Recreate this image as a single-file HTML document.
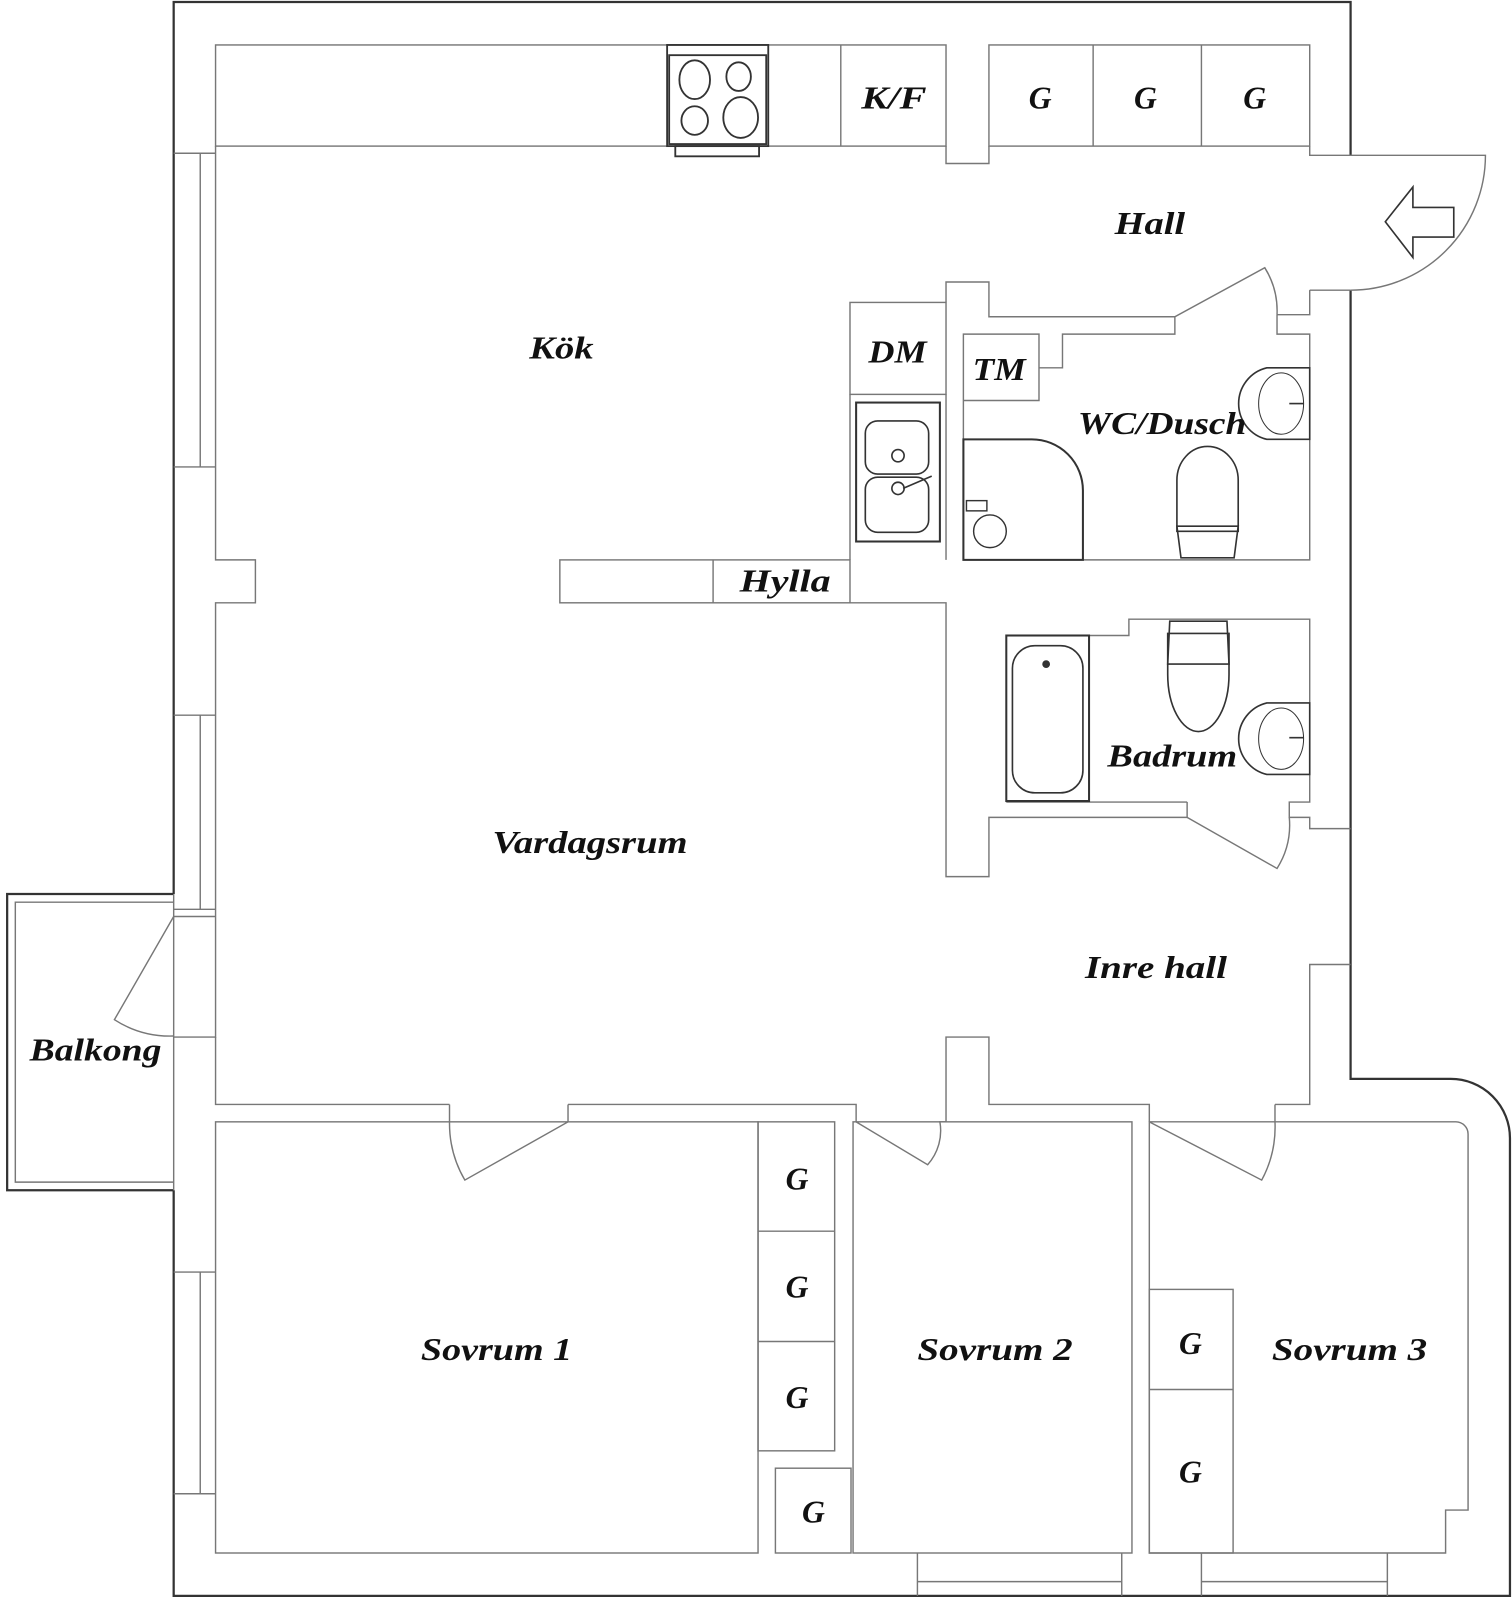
<!DOCTYPE html>
<html><head><meta charset="utf-8"><style>
html,body{margin:0;padding:0;background:#fff;}
svg{display:block;}
text{font-family:"Liberation Serif",serif;font-style:italic;font-weight:bold;font-size:31px;fill:#111;}
</style></head><body>
<svg width="1512" height="1600" viewBox="0 0 1480 1566" preserveAspectRatio="none" xmlns="http://www.w3.org/2000/svg">
<g fill="none" stroke="#333" stroke-width="2.2">
<path d="M170,875 V2 H1322 V152 M1322,284 V1056 H1420 A58,58 0 0 1 1478,1114 V1562 H170 V1165"/>
<path d="M170,875 H7 V1165 H170"/>
</g>
<g fill="none" stroke="#777" stroke-width="1.4">
<path d="M170,883 H15 V1157 H170"/>
<rect x="211" y="44" width="715" height="99"/>
<path d="M823,44 V143"/>
<path d="M926,143 V160 H968 V143"/>
<rect x="968" y="44" width="314" height="99"/>
<path d="M1070,44 V143 M1176,44 V143"/>
<path d="M1282,143 V152 H1322 M1282,284 H1322 M1282,284 V308 H1250"/>
<path d="M211,143 V548 H250 V590 H211 V1015 H170"/>
<path d="M170,150 H211 M196,150 V457 M170,457 H211"/>
<path d="M170,700 H211 M196,700 V890 M170,890 H211 M170,897 H211"/>
<path d="M170,1245 H211 M196,1245 V1462 M170,1462 H211"/>
<path d="M211,1015 V1081 H440 M556,1081 H838 V1098"/>
<path d="M170,897 L112,998 A100,100 0 0 0 170,1014"/>
<path d="M170,875 V1165"/>
<rect x="832" y="296" width="94" height="90"/>
<path d="M832,386 V548 M926,386 V548"/>
<rect x="548" y="548" width="284" height="42"/>
<path d="M698,548 V590"/>
<path d="M832,590 H926 V858 H968 V800 H1162 V785"/>
<path d="M926,296 V276 H968 V310 H1150 L1238,262 A80,80 0 0 1 1250,308"/>
<path d="M943,548 V327 H1017 V392 H943 M1017,360 H1040 V327 H1150 V310 M1250,308 V327 H1282 V548 H943"/>
<path d="M985,785 H1162 M1066,622 H1105 V606 H1282 V785 H1262 V800 H1282 V811 H1322"/>
<path d="M1162,800 L1250,850 A80,80 0 0 0 1262,800"/>
<path d="M1322,944 H1282 V1081 H1248"/>
<path d="M926,1081 V1015 H968 V1081 H1125 V1098"/>
<path d="M556,1081 V1098 L455,1155 A110,110 0 0 1 440,1098 V1081"/>
<path d="M838,1098 L908,1140 A50,50 0 0 0 920,1098 H926 V1081"/>
<path d="M1125,1098 L1235,1155 A110,110 0 0 0 1248,1098 V1081"/>
<rect x="211" y="1098" width="531" height="422"/>
<rect x="742" y="1098" width="75" height="322"/>
<path d="M742,1205 H817 M742,1313 H817"/>
<rect x="759" y="1437" width="74" height="83"/>
<rect x="835" y="1098" width="273" height="422"/>
<path d="M1125,1098 H1425 A12,12 0 0 1 1437,1110 V1478 H1415 V1520 H1125 Z"/>
<rect x="1125" y="1262" width="82" height="258"/>
<path d="M1125,1360 H1207"/>
<path d="M898,1520 V1562 M1098,1520 V1562 M898,1548 H1098"/>
<path d="M1176,1520 V1562 M1358,1520 V1562 M1176,1548 H1358"/>
<path d="M1322,284 A132,132 0 0 0 1454,152 H1322"/>
</g>
<path d="M1356,217 L1383,183 V203 H1423 V232 H1383 V252 Z" fill="none" stroke="#333" stroke-width="1.6"/>
<g fill="none" stroke="#333" stroke-width="1.8">
<rect x="653" y="44" width="99" height="99"/>
<rect x="655" y="54" width="95" height="87"/>
<rect x="661" y="143" width="82" height="10"/>
<ellipse cx="680" cy="78" rx="15" ry="19"/>
<ellipse cx="723" cy="75" rx="12" ry="14"/>
<ellipse cx="680" cy="118" rx="13" ry="14"/>
<ellipse cx="725" cy="115" rx="17" ry="20"/>
</g>
<g fill="none" stroke="#333" stroke-width="1.6">
<rect x="838" y="394" width="82" height="136" stroke-width="2"/>
<rect x="847" y="412" width="62" height="52" rx="12"/>
<rect x="847" y="467" width="62" height="54" rx="12"/>
<circle cx="879" cy="446" r="6"/>
<circle cx="879" cy="478" r="6"/>
<path d="M884,478 L912,466"/>
</g>
<g fill="none" stroke="#333" stroke-width="2">
<path d="M943,548 V430 H1010 A50,50 0 0 1 1060,480 V548 Z"/>
<circle cx="969" cy="520" r="16" stroke-width="1.4"/>
<rect x="946" y="490" width="20" height="10" stroke-width="1.4"/>
</g>
<g fill="none" stroke="#333" stroke-width="1.6">
<path d="M1152,520 V470 A30,33 0 0 1 1212,470 V520 Z"/>
<path d="M1152,515 H1212 L1208,546 H1156 Z"/>
<path d="M1240,360 H1282 V430 H1240 A36,36 0 0 1 1240,360 Z"/>
<ellipse cx="1254" cy="395" rx="22" ry="30" stroke-width="1"/>
<path d="M1262,395 H1276"/>
<rect x="985" y="622" width="81" height="162" stroke-width="2"/>
<rect x="991" y="632" width="69" height="144" rx="22"/>
<circle cx="1024" cy="650" r="3" fill="#333"/>
<path d="M1143,620 V660 A30,56 0 0 0 1203,660 V620 Z"/>
<path d="M1145,608 H1201 L1203,650 H1143 Z"/>
<path d="M1240,688 H1282 V758 H1240 A36,36 0 0 1 1240,688 Z"/>
<ellipse cx="1254" cy="723" rx="22" ry="30" stroke-width="1"/>
<path d="M1262,722 H1276"/>
</g>
<text x="843" y="106" textLength="64" lengthAdjust="spacingAndGlyphs">K/F</text>
<text x="1007" y="106">G</text>
<text x="1110" y="106">G</text>
<text x="1217" y="106">G</text>
<text x="1091" y="229" textLength="69" lengthAdjust="spacingAndGlyphs">Hall</text>
<text x="518" y="351" textLength="63" lengthAdjust="spacingAndGlyphs">Kök</text>
<text x="850" y="355" textLength="57" lengthAdjust="spacingAndGlyphs">DM</text>
<text x="952" y="372" textLength="52" lengthAdjust="spacingAndGlyphs">TM</text>
<text x="1055" y="425" textLength="165" lengthAdjust="spacingAndGlyphs">WC/Dusch</text>
<text x="724" y="579" textLength="89" lengthAdjust="spacingAndGlyphs">Hylla</text>
<text x="1084" y="750" textLength="127" lengthAdjust="spacingAndGlyphs">Badrum</text>
<text x="482" y="835" textLength="191" lengthAdjust="spacingAndGlyphs">Vardagsrum</text>
<text x="1062" y="957" textLength="139" lengthAdjust="spacingAndGlyphs">Inre hall</text>
<text x="29" y="1038" textLength="129" lengthAdjust="spacingAndGlyphs">Balkong</text>
<text x="769" y="1164">G</text>
<text x="769" y="1270">G</text>
<text x="769" y="1378">G</text>
<text x="785" y="1490">G</text>
<text x="412" y="1331" textLength="148" lengthAdjust="spacingAndGlyphs">Sovrum 1</text>
<text x="898" y="1331" textLength="152" lengthAdjust="spacingAndGlyphs">Sovrum 2</text>
<text x="1154" y="1325">G</text>
<text x="1154" y="1451">G</text>
<text x="1245" y="1331" textLength="152" lengthAdjust="spacingAndGlyphs">Sovrum 3</text>
</svg>
</body></html>
